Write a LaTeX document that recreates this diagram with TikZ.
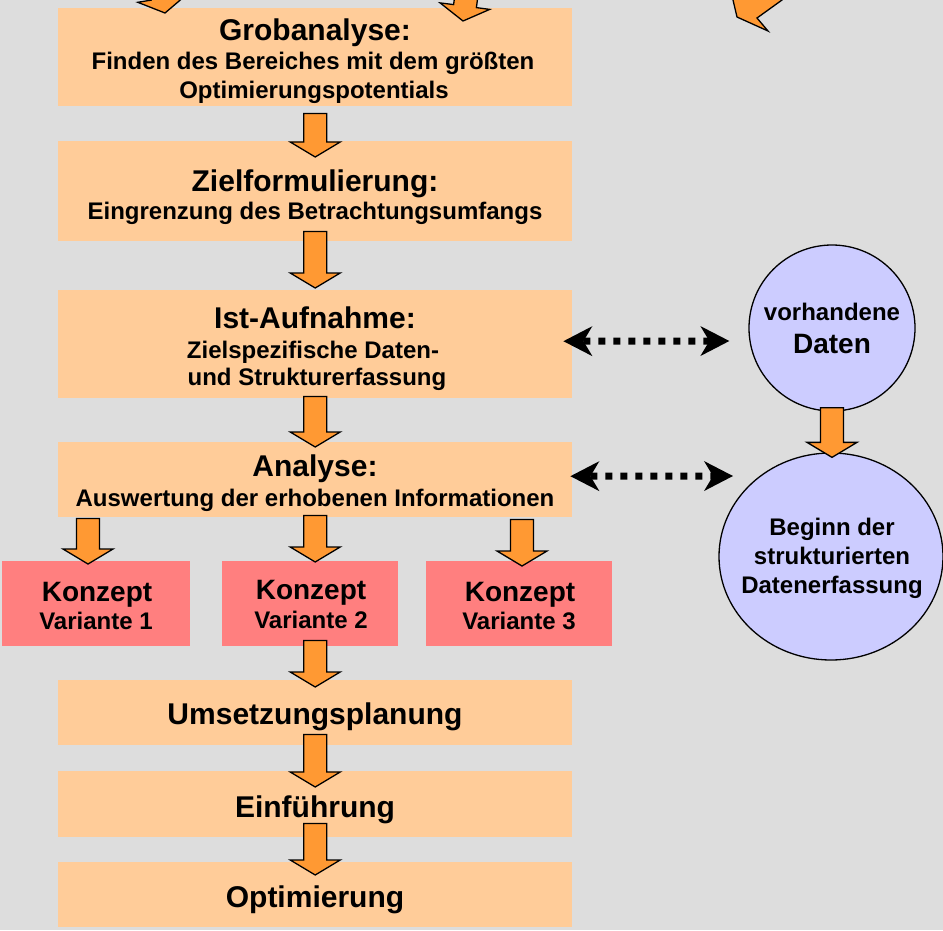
\documentclass[tikz,border=0pt]{standalone}
\usepackage{fontspec}
\setmainfont{Liberation Sans}
\usetikzlibrary{arrows.meta,calc,shapes.geometric}

\definecolor{bgray}{HTML}{DDDDDD}
\definecolor{peach}{HTML}{FFCC99}
\definecolor{rose}{HTML}{FF7F7F}
\definecolor{lilac}{HTML}{CCCCFF}
\definecolor{arrowfill}{HTML}{FF9933}

% block arrow pointing straight down: #1 = top of the shaft, #2 = tip
\newcommand\blockdown[2]{%
  \draw[blockarrow] let \p1=(#1), \p2=(#2) in
    (\x1-11.5pt,\y1) -- (\x1+11.5pt,\y1) -- (\x1+11.5pt,\y2+15pt)
    -- (\x1+25pt,\y2+15pt) -- (\x1,\y2) -- (\x1-25pt,\y2+15pt)
    -- (\x1-11.5pt,\y2+15pt) -- cycle;}

\begin{document}
\begin{tikzpicture}[x=1pt,y=-1pt,
  stage/.style={rectangle,fill=peach,draw=none,inner sep=0pt,anchor=north west,
    minimum width=514pt},
  variant/.style={rectangle,fill=rose,draw=none,inner sep=0pt,anchor=north west,
    minimum height=85pt},
  pool/.style={fill=lilac,draw=black,line width=1.3pt,inner sep=0pt},
  headtxt/.style={font=\bfseries\fontsize{30}{36}\selectfont,anchor=base,inner sep=0pt},
  midtxt/.style={font=\bfseries\fontsize{28}{34}\selectfont,anchor=base,inner sep=0pt},
  subtxt/.style={font=\bfseries\fontsize{24}{29}\selectfont,anchor=base,inner sep=0pt},
  blockarrow/.style={fill=arrowfill,draw=black,line width=1.3pt,line join=miter},
  linkarrow/.style={line width=7pt,dash pattern=on 7pt off 8pt,
    {Stealth[length=29pt,width=30pt,inset=9pt,line width=0pt]}-{Stealth[length=29pt,width=30pt,inset=9pt,line width=0pt]}}]

\useasboundingbox (0,0) rectangle (943,930);
\fill[bgray] (0,0) rectangle (943,930);

% process stages
\node[stage,minimum height=98pt]  (grob) at (58,8)   {};
\node[stage,minimum height=100pt] (ziel) at (58,141) {};
\node[stage,minimum height=108pt] (ist)  at (58,290) {};
\node[stage,minimum height=75pt]  (ana)  at (58,442) {};
\node[variant,minimum width=188pt] (k1) at (2,561)   {};
\node[variant,minimum width=176pt] (k2) at (222,561) {};
\node[variant,minimum width=186pt] (k3) at (426,561) {};
\node[stage,minimum height=65pt]  (ums)  at (58,680) {};
\node[stage,minimum height=66pt]  (einf) at (58,771) {};
\node[stage,minimum height=65pt]  (opt)  at (58,862) {};

% data pools
\node[pool,circle,minimum size=166pt] (vorh) at (832,328) {};
\node[pool,ellipse,minimum width=224pt,minimum height=207pt] (beginn) at (831,556.5) {};

% stage texts
\node[headtxt] (grob-h)  at (315,40)   {Grobanalyse:};
\node[subtxt]  (grob-a)  at (313,69.5) {Finden des Bereiches mit dem größten};
\node[subtxt]  (grob-b)  at (314,98)   {Optimierungspotentials};
\node[headtxt] (ziel-h)  at (315,191)  {Zielformulierung:};
\node[subtxt]  (ziel-a)  at (315,219.6){Eingrenzung des Betrachtungsumfangs};
\node[headtxt] (ist-h)   at (315,328)  {Ist-Aufnahme:};
\node[subtxt]  (ist-a)   at (313,358.6){Zielspezifische Daten-};
\node[subtxt]  (ist-b)   at (317,385.6){und Strukturerfassung};
\node[headtxt] (ana-h)   at (315,476)  {Analyse:};
\node[subtxt]  (ana-a)   at (315,506.6){Auswertung der erhobenen Informationen};
\node[midtxt]  (k1-h)    at (97,601)   {Konzept};
\node[subtxt]  (k1-a)    at (96,629.6) {Variante 1};
\node[midtxt]  (k2-h)    at (311,599)  {Konzept};
\node[subtxt]  (k2-a)    at (311,628.6){Variante 2};
\node[midtxt]  (k3-h)    at (520,601)  {Konzept};
\node[subtxt]  (k3-a)    at (519,629.6){Variante 3};
\node[headtxt] (ums-h)   at (315,724)  {Umsetzungsplanung};
\node[headtxt] (einf-h)  at (315,817)  {Einführung};
\node[headtxt] (opt-h)   at (315,907)  {Optimierung};

% pool texts
\node[subtxt]  (vorh-a)   at (832,320.6) {vorhandene};
\node[midtxt]  (vorh-b)   at (832,353)   {Daten};
\node[subtxt]  (beginn-a) at (832,535.6) {Beginn der};
\node[subtxt]  (beginn-b) at (832,564.6) {strukturierten};
\node[subtxt]  (beginn-c) at (832,593.6) {Datenerfassung};

% incoming arrows from above, cut by the picture edge
\begin{scope}
  \clip (0,0) rectangle (943,930);
  \draw[blockarrow] (165,13) -- (187.2,-5.9) -- (173.8,-3.7) -- (167.2,-43)
    -- (144.6,-39.3) -- (151.2,0.1) -- (137.8,2.3) -- cycle;
  \draw[blockarrow] (463,21) -- (489.7,9.4) -- (476.4,7.6) -- (481.6,-32)
    -- (458.8,-35) -- (453.6,4.6) -- (440.1,2.9) -- cycle;
  \draw[blockarrow] (731,-10) -- (733,0) -- (737,17) -- (768,31) -- (757,18)
    -- (782,0) -- (790,-10) -- cycle;
\end{scope}

% flow arrows
\blockdown{$(grob.south)+(0,7)$}{$(ziel.north)+(0,16)$}
\blockdown{$(ziel.south)+(0,-10)$}{$(ist.north)+(0,-2)$}
\blockdown{$(ist.south)+(0,-2)$}{$(ana.north)+(0,5)$}
\blockdown{$(ana.south west)+(30,1)$}{$(k1.north west)+(86,3)$}
\blockdown{$(ana.south)+(0,-2)$}{$(k2.north)+(5,1)$}
\blockdown{$(ana.south west)+(464,2)$}{$(k3.north)+(3,5)$}
\blockdown{$(k2.south)+(5,-6)$}{$(ums.north)+(0,7)$}
\blockdown{$(ums.south)+(0,-11)$}{$(einf.north)+(0,16)$}
\blockdown{$(einf.south)+(0,-14)$}{$(opt.north)+(0,13)$}
\blockdown{$(vorh.south)+(0,-4)$}{$(beginn.north)+(1,5)$}

% data links
\draw[linkarrow] ($(ist.east)+(-9,-3)$) -- ($(vorh.west)+(-19,13)$);
\draw[linkarrow] ($(ana.east)+(-2,-3.5)$) -- ($(beginn.center)+(-98,-80.5)$);
\end{tikzpicture}
\end{document}
